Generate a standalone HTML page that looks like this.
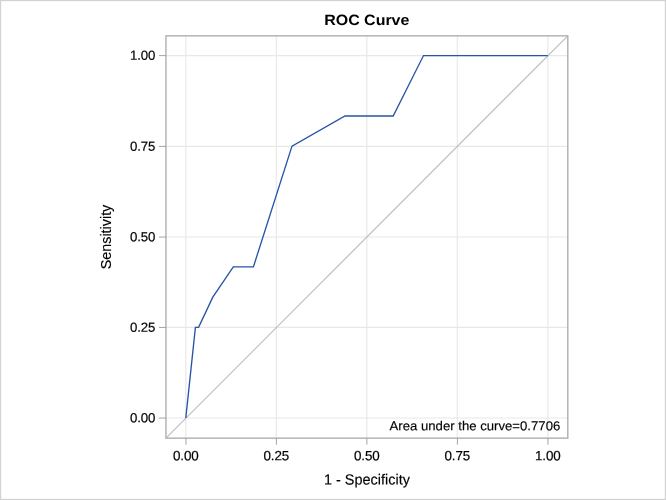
<!DOCTYPE html>
<html>
<head>
<meta charset="utf-8">
<title>ROC Curve</title>
<style>
html,body{margin:0;padding:0;background:#fff;}
body{width:666px;height:500px;overflow:hidden;font-family:"Liberation Sans",sans-serif;}
svg{display:block;will-change:transform;}
text{font-family:"Liberation Sans",sans-serif;fill:#000;}
</style>
</head>
<body>
<svg width="666" height="500" viewBox="0 0 666 500" xmlns="http://www.w3.org/2000/svg">
  <rect x="0.58" y="0.58" width="664.84" height="498.84" fill="none" stroke="#d2d2d2" stroke-width="1.16"/>
  <g stroke="#e8e8e8" stroke-width="1.15">
    <line x1="185.8" y1="35.85" x2="185.8" y2="438.15"/>
    <line x1="276.3" y1="35.85" x2="276.3" y2="438.15"/>
    <line x1="366.8" y1="35.85" x2="366.8" y2="438.15"/>
    <line x1="457.3" y1="35.85" x2="457.3" y2="438.15"/>
    <line x1="547.85" y1="35.85" x2="547.85" y2="438.15"/>
    <line x1="165.95" y1="55.55" x2="567.8" y2="55.55"/>
    <line x1="165.95" y1="146.35" x2="567.8" y2="146.35"/>
    <line x1="165.95" y1="237.0" x2="567.8" y2="237.0"/>
    <line x1="165.95" y1="327.4" x2="567.8" y2="327.4"/>
    <line x1="165.95" y1="418.0" x2="567.8" y2="418.0"/>
  </g>
  <line x1="165.95" y1="438.15" x2="567.8" y2="35.85" stroke="#bebebe" stroke-width="1.2"/>
  <polyline fill="none" stroke="#2853a8" stroke-width="1.35" stroke-linejoin="miter" points="185.8,418.05 195.4,327.4 198.6,327.4 212.8,297.1 233.3,266.9 253.4,266.9 292,146.1 345,115.95 393.2,115.95 423.5,55.55 547.85,55.55"/>
  <rect x="165.95" y="35.85" width="401.85" height="402.30" fill="none" stroke="#acafb3" stroke-width="1.4"/>
  <g stroke="#9b9fa4" stroke-width="0.95">
    <line x1="159" y1="55.6" x2="165.95" y2="55.6"/>
    <line x1="159" y1="146.4" x2="165.95" y2="146.4"/>
    <line x1="159" y1="237.05" x2="165.95" y2="237.05"/>
    <line x1="159" y1="327.45" x2="165.95" y2="327.45"/>
    <line x1="159" y1="418.05" x2="165.95" y2="418.05"/>
    <line x1="186" y1="438.15" x2="186" y2="444.65"/>
    <line x1="276.4" y1="438.15" x2="276.4" y2="444.65"/>
    <line x1="366.9" y1="438.15" x2="366.9" y2="444.65"/>
    <line x1="457.4" y1="438.15" x2="457.4" y2="444.65"/>
    <line x1="547.95" y1="438.15" x2="547.95" y2="444.65"/>
  </g>
  <text x="324.2" y="24.808" font-size="14.9" text-anchor="start" transform="skewY(0.03)" font-weight="bold" textLength="85.2" lengthAdjust="spacingAndGlyphs">ROC Curve</text>
  <g stroke="#000" stroke-width="0.2" letter-spacing="-0.1">
    <text x="155.3" y="59.775" font-size="13.25" text-anchor="end" transform="skewY(0.03)" >1.00</text>
    <text x="155.3" y="150.575" font-size="13.25" text-anchor="end" transform="skewY(0.03)" >0.75</text>
    <text x="155.3" y="241.225" font-size="13.25" text-anchor="end" transform="skewY(0.03)" >0.50</text>
    <text x="155.3" y="331.625" font-size="13.25" text-anchor="end" transform="skewY(0.03)" >0.25</text>
    <text x="155.3" y="422.225" font-size="13.25" text-anchor="end" transform="skewY(0.03)" >0.00</text>
    <text x="185.8" y="460.253" font-size="13.4" text-anchor="middle" transform="skewY(0.03)" >0.00</text>
    <text x="276.3" y="460.205" font-size="13.4" text-anchor="middle" transform="skewY(0.03)" >0.25</text>
    <text x="366.8" y="460.158" font-size="13.4" text-anchor="middle" transform="skewY(0.03)" >0.50</text>
    <text x="457.3" y="460.111" font-size="13.4" text-anchor="middle" transform="skewY(0.03)" >0.75</text>
    <text x="547.85" y="460.063" font-size="13.4" text-anchor="middle" transform="skewY(0.03)" >1.00</text>
  </g>
  <text x="323.9" y="484.308" font-size="14.7" text-anchor="start" transform="skewY(0.03)" stroke="#000" stroke-width="0.15" textLength="86" lengthAdjust="spacingAndGlyphs">1 - Specificity</text>
  <text transform="translate(111.3,269.3) rotate(-90)" font-size="14.5" stroke="#000" stroke-width="0.15" textLength="64.6" lengthAdjust="spacingAndGlyphs">Sensitivity</text>
  <text x="389.5" y="430.001" font-size="12.95" text-anchor="start" transform="skewY(0.03)" stroke="#000" stroke-width="0.15" textLength="170.8" lengthAdjust="spacingAndGlyphs">Area under the curve=0.7706</text>
</svg>
</body>
</html>
